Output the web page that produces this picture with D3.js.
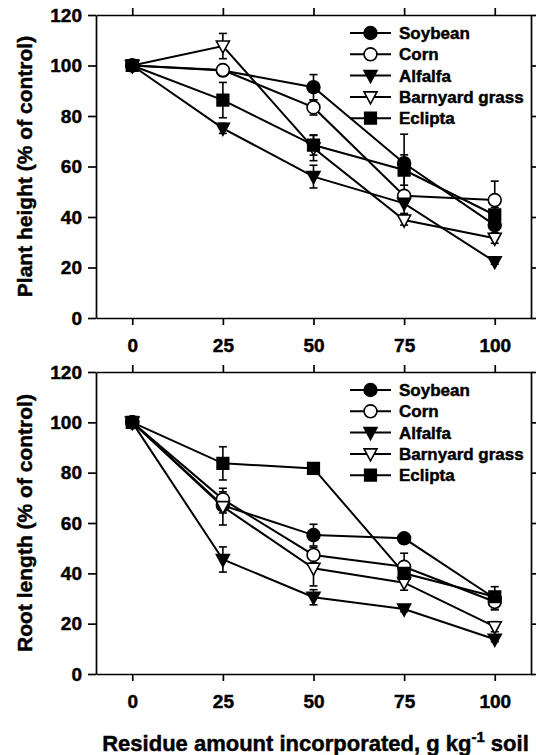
<!DOCTYPE html>
<html>
<head>
<meta charset="utf-8">
<title>Plant height and root length</title>
<script src="https://d3js.org/d3.v7.min.js"></script>
<style>
  body { margin: 0; background: #fff; }
  svg { display: block; font-family: "Liberation Sans", Arial, sans-serif; font-weight: bold; }
  svg text { stroke: #000; stroke-width: 0.45px; }
</style>
</head>
<body>
<div id="chart"></div>
<script>
// residue doses (g/kg soil)
const doses = [0, 25, 50, 75, 100];
const species = ["Soybean", "Corn", "Alfalfa", "Barnyard grass", "Eclipta"];
const yTicks = [0, 20, 40, 60, 80, 100, 120];

// plant height, % of control
const heightSoybean  = [100, 98, 91.4, 61.3, 36.8];
const heightCorn     = [100, 98.2, 83.4, 48.4, 46.7];
const heightAlfalfa  = [100, 75.1, 56, 45.4, 22.3];
const heightBarnyard = [100, 107.7, 67.3, 38.8, 31.6];
const heightEclipta  = [100, 86.3, 68.5, 58.6, 40.8];
const heightErrSoybean  = [0, 2, 5, 11.5, 3];
const heightErrCorn     = [0, 2, 3, 2, 7.5];
const heightErrAlfalfa  = [0, 2, 4.5, 4, 1];
const heightErrBarnyard = [0, 5, 5, 2, 2];
const heightErrEclipta  = [0, 7, 4, 6, 3];

// root length, % of control
const rootSoybean  = [100, 67, 55.2, 53.9, 30.1];
const rootCorn     = [100, 69.4, 47.3, 42.6, 28.7];
const rootAlfalfa  = [100, 45.5, 30.5, 25.8, 13.8];
const rootBarnyard = [100, 66.5, 42, 36.3, 18.8];
const rootEclipta  = [100, 83.7, 81.7, 40, 30.7];
const rootErrSoybean  = [0, 3, 4.3, 1, 4.6];
const rootErrCorn     = [0, 3, 3, 5.4, 3];
const rootErrAlfalfa  = [0, 5, 3, 1, 1];
const rootErrBarnyard = [0, 7.3, 7, 3, 2];
const rootErrEclipta  = [0, 6.6, 1, 2, 2];

const width = 536, height = 755;
const left = 96, right = 531;

const svg = d3.select("#chart").append("svg")
  .attr("width", width)
  .attr("height", height);

const x = d3.scaleLinear().domain([-10, 110]).range([left, right]);

// marker shapes
const triDown = { draw(ctx) { ctx.moveTo(-6.5, -5); ctx.lineTo(6.5, -5); ctx.lineTo(0, 7); ctx.closePath(); } };
const markers = [
  { type: d3.symbolCircle, size: 130, fill: "#000" },
  { type: d3.symbolCircle, size: 130, fill: "#fff" },
  { type: triDown, size: 0, fill: "#000" },
  { type: triDown, size: 0, fill: "#fff" },
  { type: d3.symbolSquare, size: 135, fill: "#000" }
];

function panel(top, bottom, values, errors, title) {
  const y = d3.scaleLinear().domain([0, 120]).range([bottom, top]);
  const g = svg.append("g");

  g.append("g").attr("transform", `translate(${left},0)`)
    .call(d3.axisLeft(y).tickValues(yTicks).tickSize(8).tickSizeOuter(0).tickPadding(6))
    .call(a => a.selectAll("text").attr("font-size", 19).attr("fill", "#000"));
  g.append("g").attr("transform", `translate(${right},0)`)
    .call(d3.axisRight(y).tickValues(yTicks).tickSize(6).tickSizeOuter(0).tickFormat(""));
  g.append("g").attr("transform", `translate(0,${bottom})`)
    .call(d3.axisBottom(x).tickValues(doses).tickSize(7).tickSizeOuter(0).tickPadding(14))
    .call(a => a.selectAll("text").attr("font-size", 19).attr("fill", "#000"));
  g.append("g").attr("transform", `translate(0,${top})`)
    .call(d3.axisTop(x).tickValues(doses).tickSize(7).tickSizeOuter(0).tickFormat(""));
  g.selectAll(".domain, .tick line").attr("stroke", "#000").attr("stroke-width", 1.7);
  g.selectAll("text").attr("font-family", "Liberation Sans, Arial, sans-serif").attr("font-weight", "bold");

  svg.append("text")
    .attr("transform", `translate(32,${(top + bottom) / 2}) rotate(-90)`)
    .attr("text-anchor", "middle")
    .attr("font-size", 21)
    .text(title);

  const line = d3.line().x((d, i) => x(doses[i])).y(d => y(d));

  values.forEach((vals, s) => {
    g.append("path").datum(vals)
      .attr("d", line)
      .attr("fill", "none")
      .attr("stroke", "#000")
      .attr("stroke-width", 2);
  });

  values.forEach((vals, s) => {
    const err = errors[s];
    const eb = g.append("g").attr("stroke", "#000").attr("stroke-width", 1.6);
    vals.forEach((v, i) => {
      if (!err[i]) return;
      const cx = x(doses[i]);
      eb.append("line").attr("x1", cx).attr("x2", cx).attr("y1", y(v + err[i])).attr("y2", y(v - err[i]));
      eb.append("line").attr("x1", cx - 4).attr("x2", cx + 4).attr("y1", y(v + err[i])).attr("y2", y(v + err[i]));
      eb.append("line").attr("x1", cx - 4).attr("x2", cx + 4).attr("y1", y(v - err[i])).attr("y2", y(v - err[i]));
    });
  });

  values.forEach((vals, s) => {
    const m = markers[s];
    g.append("g").selectAll("path").data(vals).join("path")
      .attr("transform", (d, i) => `translate(${x(doses[i])},${y(d)})`)
      .attr("d", d3.symbol(m.type, m.size))
      .attr("fill", m.fill)
      .attr("stroke", "#000")
      .attr("stroke-width", 1.6);
  });

  // legend
  const lg = g.append("g");
  species.forEach((name, s) => {
    const ly = top + 18 + s * 21.3;
    const m = markers[s];
    lg.append("line").attr("x1", 350).attr("x2", 391).attr("y1", ly).attr("y2", ly)
      .attr("stroke", "#000").attr("stroke-width", 2);
    lg.append("path").attr("transform", `translate(370.5,${ly})`)
      .attr("d", d3.symbol(m.type, m.size))
      .attr("fill", m.fill).attr("stroke", "#000").attr("stroke-width", 1.6);
    lg.append("text").attr("x", 399).attr("y", ly).attr("dy", "0.35em")
      .attr("font-size", 17).text(name);
  });
}

panel(15, 318, [heightSoybean, heightCorn, heightAlfalfa, heightBarnyard, heightEclipta],
  [heightErrSoybean, heightErrCorn, heightErrAlfalfa, heightErrBarnyard, heightErrEclipta],
  "Plant height (% of control)");
panel(372, 674, [rootSoybean, rootCorn, rootAlfalfa, rootBarnyard, rootEclipta],
  [rootErrSoybean, rootErrCorn, rootErrAlfalfa, rootErrBarnyard, rootErrEclipta],
  "Root length (% of control)");

const xt = svg.append("text")
  .attr("x", (left + right) / 2 + 2)
  .attr("y", 751)
  .attr("text-anchor", "middle")
  .attr("font-size", 22);
xt.append("tspan").text("Residue amount incorporated, g kg");
xt.append("tspan").attr("font-size", 15).attr("dy", -9).text("-1");
xt.append("tspan").attr("dy", 9).text(" soil");
</script>
</body>
</html>
